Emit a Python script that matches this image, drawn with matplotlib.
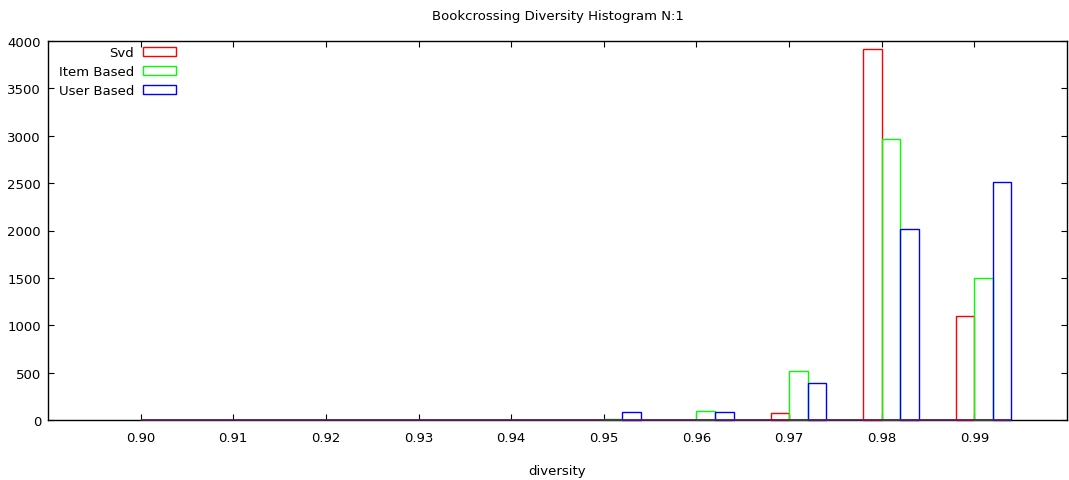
import matplotlib
matplotlib.use("Agg")
import matplotlib.pyplot as plt
from matplotlib.patches import Rectangle

bins = [0.90, 0.91, 0.92, 0.93, 0.94, 0.95, 0.96, 0.97, 0.98, 0.99]
svd = [0, 0, 0, 0, 0, 0, 0, 70, 3920, 1095]
item_based = [0, 0, 0, 0, 0, 10, 92, 520, 2970, 1500]
user_based = [0, 0, 0, 0, 0, 81, 81, 390, 2020, 2515]
series_names = ["Svd", "Item Based", "User Based"]
series_colors = ["#ff0000", "#00ff00", "#0000ff"]
xticks = [0.90, 0.91, 0.92, 0.93, 0.94, 0.95, 0.96, 0.97, 0.98, 0.99]
yticks = [0, 500, 1000, 1500, 2000, 2500, 3000, 3500, 4000]

plt.rcParams['font.family'] = ['DejaVu Sans']
fig = plt.figure(figsize=(10.69, 4.81), dpi=100)
ax = fig.add_axes([48/1069, 60/481, (1067-48)/1069, (421-42)/481])

w = 0.002
offsets = [-w, 0.0, w]
for vals, off, col in zip([svd, item_based, user_based], offsets, series_colors):
    xs = [b + off for b, v in zip(bins, vals) if v > 0]
    hs = [v for v in vals if v > 0]
    ax.bar(xs, hs, width=w, align='edge',
           facecolor='none', edgecolor=col, linewidth=1.0, zorder=3, clip_on=False)

# overlapping zero-height boxes render as a purple baseline in the original
ax.hlines(0, bins[0], bins[-1] + 2 * w, color='#5a1f5a', linewidth=1.3, zorder=4, clip_on=False)

ax.set_xlim(0.89, 1.00)
ax.set_ylim(0, 4000)
ax.set_xticks(xticks)
ax.set_xticklabels([f"{t:.2f}" for t in xticks])
ax.set_yticks(yticks)
ax.tick_params(direction='in', top=True, right=True, labelsize=9.5, length=4, pad=8)
ax.tick_params(axis='y', pad=5)
for s in ax.spines.values():
    s.set_linewidth(1.0)

ax.set_title("Bookcrossing Diversity Histogram N:1", fontsize=9.5, pad=16)
ax.set_xlabel("diversity", fontsize=9.5, labelpad=14)

handles = [Rectangle((0, 0), 1, 1, facecolor='none', edgecolor=c, linewidth=1.0) for c in series_colors]
leg = ax.legend(handles, series_names, loc='upper left', bbox_to_anchor=(0.0055, 1.0),
                frameon=False, markerfirst=False, fontsize=9.5, handlelength=2.5,
                handleheight=0.7, labelspacing=0.45, handletextpad=0.7, borderaxespad=0.0)
for t in leg.get_texts():
    t.set_ha('right')
leg._legend_box.align = 'right'

fig.savefig("out.png", dpi=100)
